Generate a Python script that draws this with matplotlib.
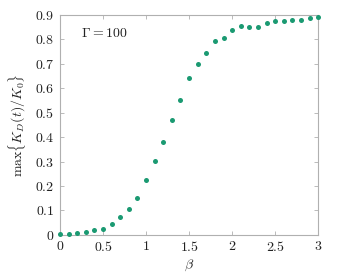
import numpy as np
import matplotlib
matplotlib.use("Agg")
import matplotlib.pyplot as plt
from matplotlib.ticker import FuncFormatter

plt.rcParams['mathtext.fontset'] = 'cm'
plt.rcParams['font.family'] = 'serif'
plt.rcParams['font.serif'] = ['cmr10', 'DejaVu Serif']
plt.rcParams['axes.formatter.use_mathtext'] = True

# data
beta = [0.0, 0.1, 0.2, 0.3, 0.4, 0.5, 0.6, 0.7, 0.8, 0.9,
        1.0, 1.1, 1.2, 1.3, 1.4, 1.5, 1.6, 1.7, 1.8, 1.9,
        2.0, 2.1, 2.2, 2.3, 2.4, 2.5, 2.6, 2.7, 2.8, 2.9, 3.0]
kd_max = [0.005, 0.003, 0.006, 0.013, 0.020, 0.026, 0.045, 0.073, 0.105, 0.151,
          0.223, 0.301, 0.382, 0.468, 0.552, 0.641, 0.700, 0.743, 0.792, 0.807,
          0.837, 0.853, 0.850, 0.851, 0.865, 0.876, 0.877, 0.880, 0.881, 0.889, 0.890]
xticks = [0, 0.5, 1, 1.5, 2, 2.5, 3]
yticks = [0, 0.1, 0.2, 0.3, 0.4, 0.5, 0.6, 0.7, 0.8, 0.9]

fig = plt.figure(figsize=(3.41, 2.76), dpi=100)
ax = fig.add_axes([0.176, 0.149, 0.757, 0.797])

ax.scatter(beta, kd_max, s=13, color="#1b9a72", zorder=3, clip_on=False,
           linewidths=0)

ax.set_xlim(0, 3)
ax.set_ylim(0, 0.9)
ax.set_xticks(xticks)
ax.set_yticks(yticks)
fmt = FuncFormatter(lambda v, p: "$%g$" % v)
ax.xaxis.set_major_formatter(fmt)
ax.yaxis.set_major_formatter(fmt)

for s in ax.spines.values():
    s.set_color("#b0b0b0")
    s.set_linewidth(0.8)
ax.tick_params(direction="in", top=True, right=True, length=3, width=0.6,
               color="#b0b0b0", labelsize=10, pad=4, labelcolor="#222222")

ax.set_xlabel(r"$\beta$", fontsize=10, color="#222222", labelpad=2)
ax.set_ylabel(r"$\max\{K_D(t)/K_0\}$", fontsize=10, color="#222222", labelpad=5)
ax.text(0.08, 0.9, r"$\Gamma = 100$", transform=ax.transAxes, fontsize=10,
        color="#222222")

fig.savefig("out.png", dpi=100)
